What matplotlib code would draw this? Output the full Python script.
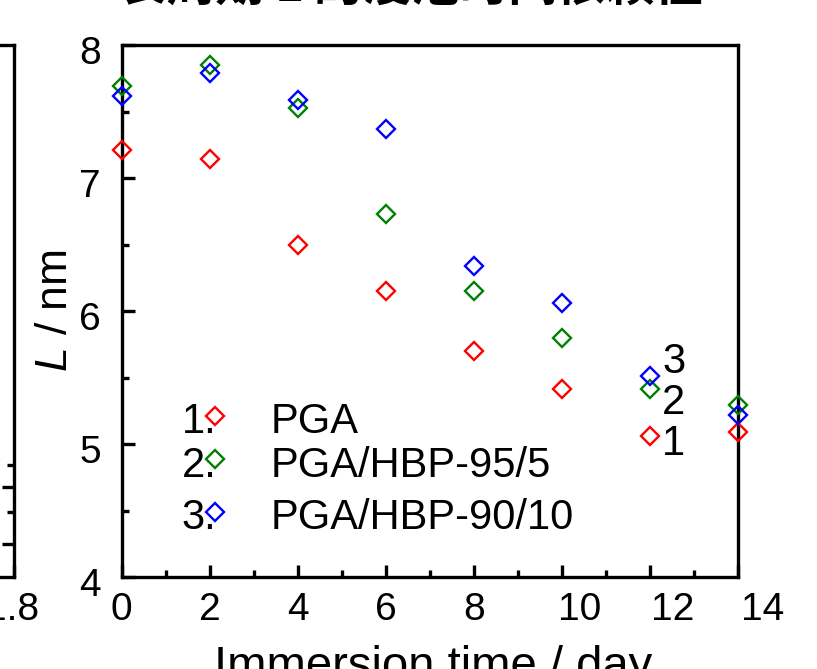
import matplotlib
matplotlib.use("Agg")
import matplotlib.pyplot as plt
import matplotlib.transforms as mtransforms
from matplotlib.ticker import MultipleLocator, FixedLocator

plt.rcParams['font.family'] = ['Liberation Sans', 'DejaVu Sans']
plt.rcParams['mathtext.fontset'] = 'custom'
plt.rcParams['mathtext.rm'] = 'Liberation Sans'
plt.rcParams['mathtext.it'] = 'Liberation Sans:italic'

# long period L vs immersion time
days = [0, 2, 4, 6, 8, 10, 12, 14]
L_pga = [7.21, 7.14, 6.50, 6.15, 5.70, 5.41, 5.06, 5.09]
L_95_5 = [7.69, 7.85, 7.53, 6.73, 6.15, 5.80, 5.41, 5.29]
L_90_10 = [7.62, 7.79, 7.59, 7.37, 6.34, 6.06, 5.51, 5.22]

names = ["PGA", "PGA/HBP-95/5", "PGA/HBP-90/10"]
colors = ["#ff0000", "#008000", "#0000ff"]
series = [L_pga, L_95_5, L_90_10]

# curve numbers next to the day-12 points
num_x = 12.27
num_y = [5.00, 5.31, 5.62]

# shifted x tick labels (px) as in the original figure
x_label_shift = [0, 0, 0, 0, 0, 17, 22, 24]

W, H = 817, 669
fig = plt.figure(figsize=(W / 100, H / 100), dpi=100)

# main panel, pixel box
x0, x1, y_top, y_bot = 121.7, 738.3, 45, 577
ax = fig.add_axes([x0 / W, 1 - y_bot / H, (x1 - x0) / W, (y_bot - y_top) / H])

MS, MEW = 9.4, 1.7
for vals, c in zip(series, colors):
    ax.plot(days, vals, ls='none', marker='D', ms=MS, mfc='none', mec=c,
            mew=MEW, clip_on=False, zorder=4)

ax.set_xlim(0, 14)
ax.set_ylim(4, 8)
ax.set_xticks(range(0, 15, 2))
ax.xaxis.set_minor_locator(MultipleLocator(1))
ax.set_yticks([4, 5, 6, 7, 8])
ax.yaxis.set_minor_locator(MultipleLocator(0.5))
ax.tick_params(which='both', direction='in', top=False, right=False,
               width=2.4, labelsize=28, color='black')
ax.tick_params(which='major', length=9)
ax.tick_params(which='minor', length=5)
ax.tick_params(axis='x', pad=11)
ax.tick_params(axis='y', pad=15)
for s in ax.spines.values():
    s.set_linewidth(2.4)

for lab, dx in zip(ax.get_xticklabels(), x_label_shift):
    lab.set_transform(lab.get_transform() +
                      mtransforms.ScaledTranslation(dx / 100, 0, fig.dpi_scale_trans))
for lab in ax.get_yticklabels():
    lab.set_transform(lab.get_transform() +
                      mtransforms.ScaledTranslation(0, -5 / 100, fig.dpi_scale_trans))

ax.set_ylabel('$L$ / nm', fontsize=32)
ax.yaxis.set_label_coords(-0.074, 0.50)
ax.set_xlabel('Immersion time / day', fontsize=34)
ax.xaxis.set_label_coords(0.505, -0.128)

# legend built by hand: number, marker, name
leg_y = [0.303, 0.221, 0.123]
for i, (name, c) in enumerate(zip(names, colors)):
    ax.text(0.097, leg_y[i] - 0.033, f"{i + 1}.", transform=ax.transAxes,
            fontsize=30, va='baseline', ha='left')
    ax.plot([0.152], [leg_y[i]], transform=ax.transAxes, ls='none', marker='D',
            ms=MS, mfc='none', mec=c, mew=MEW, clip_on=False, zorder=5)
    ax.text(0.241, leg_y[i] - 0.033, name, transform=ax.transAxes,
            fontsize=30, va='baseline', ha='left')

for i, y in enumerate(num_y):
    ax.text(num_x, y, str(i + 1), fontsize=30, va='center', ha='left')

# neighbouring panel, only its right edge shows
ax0 = fig.add_axes([(14 - 300) / W, 1 - y_bot / H, 300 / W, (y_bot - y_top) / H])
ax0.set_xlim(1.0, 1.8)
ax0.set_ylim(0, 1)
ax0.set_xticks([1.8])
ax0.set_xticklabels(['1.8'])
ax0.yaxis.tick_right()
ax0.yaxis.set_major_locator(FixedLocator([0.062, 0.169]))
ax0.yaxis.set_minor_locator(FixedLocator([0.122, 0.21]))
ax0.tick_params(which='both', direction='in', width=2.4, labelsize=28,
                labelright=False, labelleft=False)
ax0.tick_params(which='major', length=9)
ax0.tick_params(which='minor', length=5)
ax0.tick_params(axis='x', pad=11)
for s in ax0.spines.values():
    s.set_linewidth(2.4)
for lab in ax0.get_xticklabels():
    lab.set_transform(lab.get_transform() +
                      mtransforms.ScaledTranslation(-2 / 100, 0, fig.dpi_scale_trans))

# figure title, mostly above the visible area
fig.text(410 / W, 1 - 11 / H, '长周期 L 的浸泡时间依赖性', fontsize=35,
         fontweight='bold', ha='center', va='bottom',
         family=['Noto Sans CJK SC', 'DejaVu Sans'])

fig.savefig('out.png', dpi=100)
